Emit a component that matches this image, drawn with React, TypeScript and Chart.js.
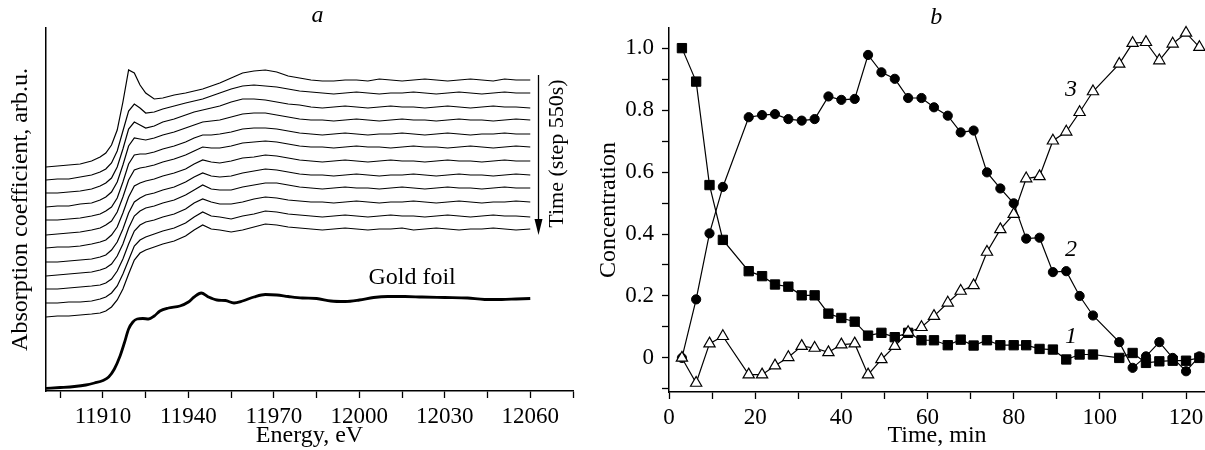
import React, { useEffect, useRef } from "react";
import { Chart, registerables } from "chart.js";

Chart.register(...registerables);

const SERIF = "'Liberation Serif', 'Times New Roman', Times, serif";

/* ---------------- panel a : time-resolved spectra ---------------- */
const energy = [
  11890, 11894, 11898, 11902, 11906, 11909, 11911, 11913, 11915, 11917,
  11919, 11921, 11923, 11925, 11928, 11931, 11935, 11939, 11942, 11945,
  11948, 11951, 11955, 11959, 11963, 11967, 11971, 11975, 11979, 11983,
  11987, 11991, 11995, 11999, 12003, 12007, 12011, 12015, 12019, 12023,
  12027, 12031, 12035, 12039, 12043, 12047, 12051, 12055, 12060,
];

// vertical offset of each spectrum (stacked for clarity), arb.u.
const spectrumOffsets = [311, 298, 284, 271, 257, 244, 230, 216, 203, 189, 175, 162];

const spectrum01 = [-87,-86,-85,-84,-81,-77,-73,-65,-50,-22,10,7,-5,-13,-19,-18,-15,-13,-11,-9,-6,-3,2,7,9,10,8,4,2,0,-1,-1,0,0,-1,1,0,-1,0,1,0,-1,0,1,0,-1,1,0,0];
const spectrum02 = [-87,-86,-86,-84,-82,-79,-76,-70,-58,-38,-18,-11,-15,-20,-19,-16,-13,-10,-8,-6,-3,0,4,7,8,7,6,4,2,1,0,-1,0,1,0,-1,0,0,1,0,-1,0,1,0,-1,0,1,0,0];
const spectrum03 = [-86,-86,-85,-84,-82,-79,-76,-71,-60,-42,-22,-15,-18,-21,-19,-15,-12,-8,-5,-3,-1,1,5,8,8,7,5,3,2,0,-1,0,1,0,-1,0,1,0,0,-1,0,1,0,-1,0,1,0,0,-1];
const spectrum04 = [-87,-86,-86,-84,-83,-80,-77,-72,-62,-45,-26,-18,-19,-20,-18,-15,-12,-8,-5,-2,-1,0,3,6,7,7,5,3,1,0,0,-1,0,1,0,-1,0,1,0,0,-1,0,1,0,0,-1,0,1,0];
const spectrum05 = [-86,-86,-85,-84,-82,-80,-77,-73,-64,-48,-30,-21,-20,-20,-18,-15,-12,-8,-4,-1,-1,0,2,5,6,6,5,3,1,0,-1,0,1,0,-1,0,0,1,0,-1,0,1,0,-1,0,0,1,0,0];
const spectrum06 = [-88,-87,-86,-85,-83,-81,-78,-74,-65,-50,-33,-23,-21,-20,-18,-15,-12,-8,-4,0,-1,-1,1,4,5,6,5,3,1,0,0,-1,0,1,0,0,-1,0,1,0,0,-1,0,1,0,-1,0,1,0];
const spectrum07 = [-87,-86,-86,-85,-83,-81,-79,-74,-66,-52,-36,-25,-22,-20,-18,-15,-12,-8,-3,1,-1,-2,0,3,4,6,5,3,1,0,-1,0,1,0,-1,0,1,0,0,-1,0,1,0,0,-1,0,1,0,0];
const spectrum08 = [-87,-87,-86,-85,-84,-82,-80,-75,-67,-54,-38,-27,-23,-20,-18,-15,-12,-7,-2,2,-1,-2,-1,2,4,6,5,3,1,0,0,-1,0,1,0,-1,0,0,1,0,-1,0,1,0,0,-1,0,1,0];
const spectrum09 = [-88,-87,-86,-85,-84,-82,-80,-76,-68,-56,-40,-28,-23,-20,-18,-15,-12,-7,-2,3,-1,-2,-2,1,3,5,5,3,1,0,-1,0,1,0,0,-1,0,1,0,-1,0,1,0,0,-1,0,1,0,0];
const spectrum10 = [-87,-87,-86,-85,-84,-83,-81,-77,-69,-57,-42,-29,-23,-20,-18,-15,-12,-7,-1,3,0,-2,-2,0,3,5,4,2,1,0,0,-1,0,1,0,-1,0,0,1,0,-1,0,1,0,-1,0,0,1,0];
const spectrum11 = [-87,-87,-86,-86,-85,-83,-81,-77,-70,-58,-44,-30,-24,-21,-18,-15,-12,-7,-1,4,0,-1,-3,0,2,5,4,2,1,0,-1,0,1,0,-1,0,1,0,0,-1,0,1,0,-1,0,1,0,0,-1];
const spectrum12 = [-88,-87,-87,-86,-85,-84,-82,-78,-71,-60,-45,-31,-24,-21,-18,-15,-12,-7,-1,4,0,-1,-3,-1,2,5,4,2,1,0,-1,0,1,0,-1,0,0,1,-1,0,1,0,-1,0,0,1,0,-1,0];

const spectra = [
  spectrum01, spectrum02, spectrum03, spectrum04, spectrum05, spectrum06,
  spectrum07, spectrum08, spectrum09, spectrum10, spectrum11, spectrum12,
];

const goldEnergy = [
  11890, 11895, 11900, 11904, 11907, 11910, 11912, 11914, 11916, 11917.5,
  11919, 11920.5, 11922, 11924, 11926, 11928, 11930, 11933, 11937, 11940,
  11942, 11944.5, 11947, 11950, 11953, 11956, 11959, 11963, 11967, 11971,
  11975, 11980, 11985, 11990, 11995, 12000, 12005, 12010, 12016, 12022,
  12030, 12038, 12044, 12050, 12055, 12060,
];
const goldFoil = [
  2.7, 3.5, 4.5, 6, 8, 10.5, 14, 22, 35, 48,
  62, 69, 72, 72.5, 72, 75, 80, 83, 85, 89,
  94, 98, 94, 91, 90.5, 88, 90, 94, 96.5, 96,
  94.5, 93, 92.5, 90, 89.5, 91, 93.5, 94.5, 94.5, 94,
  93.5, 93, 91.5, 91.5, 92, 92.5,
];

const energyTickLabels = [11910, 11940, 11970, 12000, 12030, 12060];

/* ---------------- panel b : concentrations ---------------- */
const timeMin = [
  3.0, 6.3, 9.4, 12.5, 18.5, 21.6, 24.6, 27.7, 30.8, 33.8,
  37.0, 40.0, 43.1, 46.2, 49.3, 52.4, 55.5, 58.6, 61.5, 64.7,
  67.7, 70.7, 73.8, 76.9, 80.0, 82.9, 86.0, 89.1, 92.2, 95.3,
  98.4, 104.5, 107.6, 110.7, 113.8, 116.9, 120.0, 123.1,
];
const conc1 = [
  1.0, 0.892, 0.558, 0.381, 0.280, 0.264, 0.237, 0.230, 0.202, 0.202,
  0.143, 0.129, 0.117, 0.072, 0.081, 0.067, 0.081, 0.057, 0.057, 0.041,
  0.059, 0.040, 0.057, 0.041, 0.041, 0.041, 0.029, 0.027, -0.005, 0.011,
  0.011, 0.0, 0.016, -0.016, -0.011, -0.009, -0.009, 0.0,
];
const conc2 = [
  0.0, 0.189, 0.402, 0.552, 0.777, 0.784, 0.787, 0.771, 0.766, 0.771,
  0.844, 0.833, 0.836, 0.978, 0.922, 0.901, 0.839, 0.839, 0.809, 0.782,
  0.728, 0.734, 0.599, 0.547, 0.499, 0.385, 0.388, 0.277, 0.280, 0.200,
  0.137, 0.051, -0.032, 0.005, 0.051, 0.0, -0.043, 0.005,
];
const conc3 = [
  0.0, -0.081, 0.046, 0.070, -0.054, -0.054, -0.025, 0.002, 0.038, 0.032,
  0.018, 0.043, 0.046, -0.054, -0.005, 0.038, 0.083, 0.099, 0.135, 0.178,
  0.216, 0.234, 0.342, 0.415, 0.464, 0.579, 0.586, 0.701, 0.730, 0.793,
  0.860, 0.949, 1.016, 1.019, 0.960, 1.014, 1.049, 1.003,
];

const timeTickLabels = [0, 20, 40, 60, 80, 100, 120];
const concTickLabels = [0, 0.2, 0.4, 0.6, 0.8, 1.0];
const concTickText = ["0", "0.2", "0.4", "0.6", "0.8", "1.0"];

const curveLabels = [
  { text: "1", t: 93.3, c: 0.07 },
  { text: "2", t: 93.3, c: 0.35 },
  { text: "3", t: 93.3, c: 0.865 },
];

/* ---------------- plugins ---------------- */
const annotA = {
  id: "annotA",
  afterDraw(chart: any) {
    const { ctx, chartArea, scales } = chart;
    const x = scales.x;
    const y = scales.y;
    ctx.save();
    ctx.fillStyle = "#000";
    ctx.strokeStyle = "#000";
    ctx.textAlign = "center";
    ctx.textBaseline = "alphabetic";
    ctx.font = `italic 24px ${SERIF}`;
    ctx.fillText("a", (chartArea.left + chartArea.right) / 2 + 8, 22);
    ctx.font = `24px ${SERIF}`;
    ctx.fillText("Gold foil", x.getPixelForValue(12018.5), y.getPixelForValue(107));
    const ax = Math.round(x.getPixelForValue(12062.8)) + 0.5;
    const y0 = y.getPixelForValue(316);
    const y1 = y.getPixelForValue(156);
    ctx.lineWidth = 1.3;
    ctx.beginPath();
    ctx.moveTo(ax, y0);
    ctx.lineTo(ax, y1 - 8);
    ctx.stroke();
    ctx.beginPath();
    ctx.moveTo(ax, y1);
    ctx.lineTo(ax - 4, y1 - 16);
    ctx.lineTo(ax + 4, y1 - 16);
    ctx.closePath();
    ctx.fill();
    ctx.translate(x.getPixelForValue(12069.4), y.getPixelForValue(237.5));
    ctx.rotate(-Math.PI / 2);
    ctx.font = `22px ${SERIF}`;
    ctx.textBaseline = "middle";
    ctx.fillText("Time (step 550s)", 0, 0);
    ctx.restore();
  },
};

const annotB = {
  id: "annotB",
  afterDraw(chart: any) {
    const { ctx, scales } = chart;
    const x = scales.x;
    const y = scales.y;
    ctx.save();
    ctx.fillStyle = "#000";
    ctx.textAlign = "center";
    ctx.textBaseline = "alphabetic";
    ctx.font = `italic 24px ${SERIF}`;
    ctx.fillText("b", x.getPixelForValue(62), 24);
    ctx.textBaseline = "middle";
    for (const l of curveLabels) {
      ctx.fillText(l.text, x.getPixelForValue(l.t), y.getPixelForValue(l.c));
    }
    ctx.restore();
  },
};

function zeroPad(s: any) {
  s.paddingLeft = 0;
  s.paddingRight = 0;
  s.paddingTop = 0;
  s.paddingBottom = 0;
}

const tickFont = { family: SERIF, size: 23 };
const titleFont = { family: SERIF, size: 24 };

function makeChartA(canvas: HTMLCanvasElement) {
  const datasets: any[] = spectra.map((s, i) => ({
    data: energy.map((e, k) => ({ x: e, y: s[k] + spectrumOffsets[i] })),
    borderColor: "#000",
    borderWidth: 1.2,
    pointRadius: 0,
    tension: 0,
    fill: false,
  }));
  datasets.push({
    data: goldEnergy.map((e, k) => ({ x: e, y: goldFoil[k] })),
    borderColor: "#000",
    borderWidth: 2.8,
    pointRadius: 0,
    cubicInterpolationMode: "monotone",
    fill: false,
  });
  return new Chart(canvas, {
    type: "line",
    data: { datasets },
    options: {
      responsive: false,
      animation: false,
      devicePixelRatio: 1,
      events: [],
      layout: { autoPadding: false, padding: { left: 0, top: 28, right: 27, bottom: 0 } },
      plugins: { legend: { display: false }, tooltip: { enabled: false } },
      scales: {
        x: {
          type: "linear",
          min: 11890,
          max: 12075,
          ticks: {
            stepSize: 15,
            includeBounds: false,
            autoSkip: false,
            maxRotation: 0,
            padding: 5,
            color: "#000",
            font: tickFont,
            callback: (v: any) => (energyTickLabels.includes(Number(v)) ? String(v) : ""),
          },
          grid: { display: true, drawOnChartArea: false, drawTicks: true, tickLength: 7, tickWidth: 1.3, tickColor: "#000" },
          border: { display: true, color: "#000", width: 1.5 },
          title: { display: true, text: "Energy, eV", color: "#000", font: titleFont, padding: { top: 0, bottom: 0 } },
          afterFit: (s: any) => {
            s.height = 59;
            zeroPad(s);
          },
        },
        y: {
          type: "linear",
          min: 0,
          max: 363,
          ticks: { display: false },
          grid: { display: false },
          border: { display: true, color: "#000", width: 1.5 },
          title: {
            display: true,
            text: "Absorption coefficient, arb.u.",
            color: "#000",
            font: titleFont,
            padding: { top: 6, bottom: 0 },
          },
          afterFit: (s: any) => {
            s.width = 46;
            zeroPad(s);
          },
        },
      },
    } as any,
    plugins: [annotA],
  });
}

function makeChartB(canvas: HTMLCanvasElement) {
  const common = {
    borderColor: "#000",
    borderWidth: 1.2,
    tension: 0,
    fill: false,
    clip: 10,
    pointBorderColor: "#000",
  };
  return new Chart(canvas, {
    type: "line",
    data: {
      datasets: [
        {
          ...common,
          data: timeMin.map((t, k) => ({ x: t, y: conc3[k] })),
          pointStyle: "triangle",
          pointRadius: 6.5,
          pointBackgroundColor: "#fff",
          pointBorderWidth: 1.2,
        },
        {
          ...common,
          data: timeMin.map((t, k) => ({ x: t, y: conc2[k] })),
          pointStyle: "circle",
          pointRadius: 4.6,
          pointBackgroundColor: "#000",
          pointBorderWidth: 1,
        },
        {
          ...common,
          data: timeMin.map((t, k) => ({ x: t, y: conc1[k] })),
          pointStyle: "rect",
          pointRadius: 6.6,
          pointBackgroundColor: "#000",
          pointBorderWidth: 1,
        },
      ],
    },
    options: {
      responsive: false,
      animation: false,
      devicePixelRatio: 1,
      events: [],
      layout: { autoPadding: false, padding: { left: 0, top: 28, right: 0, bottom: 0 } },
      plugins: { legend: { display: false }, tooltip: { enabled: false } },
      scales: {
        x: {
          type: "linear",
          min: 0,
          max: 124.4,
          ticks: {
            stepSize: 10,
            includeBounds: false,
            autoSkip: false,
            maxRotation: 0,
            padding: 5,
            color: "#000",
            font: tickFont,
            callback: (v: any) => (timeTickLabels.includes(Number(v)) ? String(v) : ""),
          },
          grid: { display: true, drawOnChartArea: false, drawTicks: true, tickLength: 7, tickWidth: 1.3, tickColor: "#000" },
          border: { display: true, color: "#000", width: 1.5 },
          title: { display: true, text: "Time, min", color: "#000", font: titleFont, padding: { top: 0, bottom: 0 } },
          afterFit: (s: any) => {
            s.height = 58;
            zeroPad(s);
          },
        },
        y: {
          type: "linear",
          min: -0.11,
          max: 1.065,
          ticks: {
            stepSize: 0.1,
            includeBounds: false,
            autoSkip: false,
            padding: 8,
            color: "#000",
            font: tickFont,
            callback: (v: any) => {
              const idx = concTickLabels.findIndex((t) => Math.abs(t - Number(v)) < 1e-6);
              return idx >= 0 ? concTickText[idx] : "";
            },
          },
          grid: { display: true, drawOnChartArea: false, drawTicks: true, tickLength: 7, tickWidth: 1.3, tickColor: "#000" },
          border: { display: true, color: "#000", width: 1.5 },
          title: { display: true, text: "Concentration", color: "#000", font: titleFont, padding: { top: 9, bottom: 0 } },
          afterFit: (s: any) => {
            s.width = 84;
            zeroPad(s);
          },
        },
      },
    } as any,
    plugins: [annotB],
  });
}

export default function App() {
  const refA = useRef<HTMLCanvasElement>(null);
  const refB = useRef<HTMLCanvasElement>(null);
  useEffect(() => {
    const a = makeChartA(refA.current as HTMLCanvasElement);
    const b = makeChartB(refB.current as HTMLCanvasElement);
    return () => {
      a.destroy();
      b.destroy();
    };
  }, []);
  return (
    <div
      style={{
        position: "fixed",
        left: 0,
        top: 0,
        width: 1205,
        height: 450,
        background: "#fff",
        overflow: "hidden",
      }}
    >
      <canvas ref={refA} width={600} height={450} style={{ position: "absolute", left: 0, top: 0 }} />
      <canvas ref={refB} width={620} height={450} style={{ position: "absolute", left: 585, top: 0 }} />
    </div>
  );
}
